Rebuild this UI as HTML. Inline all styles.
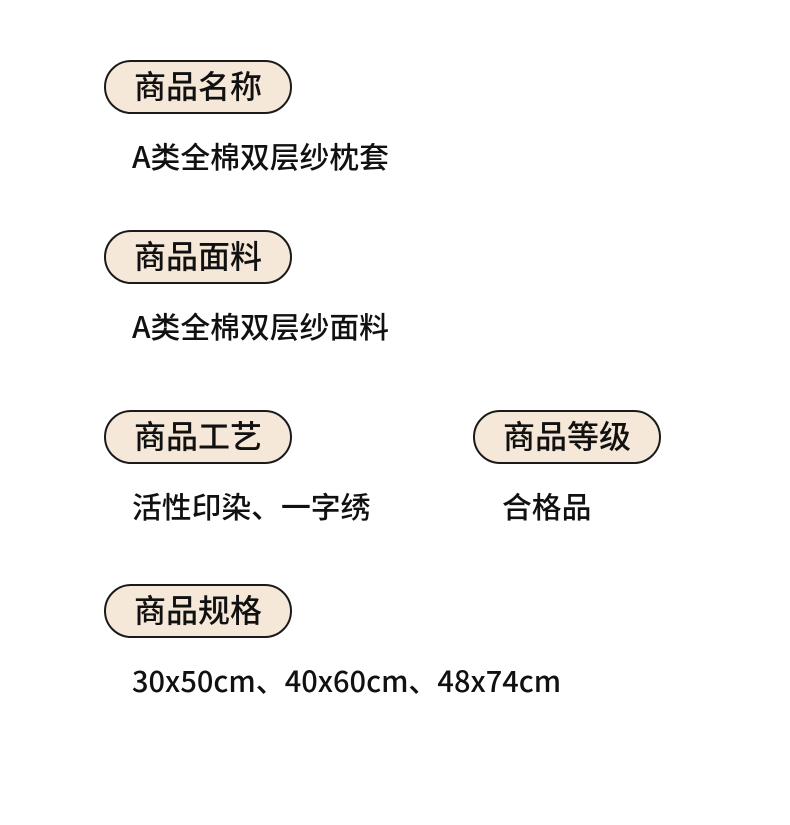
<!DOCTYPE html><html><head><meta charset="utf-8"><style>
body{margin:0;width:790px;height:825px;background:#fff;position:relative;font-family:"Noto Sans CJK SC","Liberation Sans",sans-serif;color:#111;font-weight:500}
.p{position:absolute;width:184px;height:50px;border:2px solid #1a1a1a;border-radius:27px;background:#f6e8d8;font-size:32px;line-height:50px;box-sizing:content-box}
.p span{position:absolute;left:28px;top:-2px;white-space:nowrap}
.v{position:absolute;font-size:29.8px;line-height:36px;white-space:nowrap}
</style></head><body>
<div class="p" style="left:104px;top:60px"><span>商品名称</span></div>
<div class="v" style="left:132px;top:137px">A类全棉双层纱枕套</div>
<div class="p" style="left:104px;top:230px"><span>商品面料</span></div>
<div class="v" style="left:132px;top:307px">A类全棉双层纱面料</div>
<div class="p" style="left:104px;top:410px"><span>商品工艺</span></div>
<div class="v" style="left:132px;top:487px">活性印染、一字绣</div>
<div class="p" style="left:473px;top:410px"><span>商品等级</span></div>
<div class="v" style="left:502px;top:487px">合格品</div>
<div class="p" style="left:104px;top:584px"><span>商品规格</span></div>
<div class="v" style="left:132px;top:662px;font-size:29px">30x50cm、40x60cm、48x74cm</div>
</body></html>
